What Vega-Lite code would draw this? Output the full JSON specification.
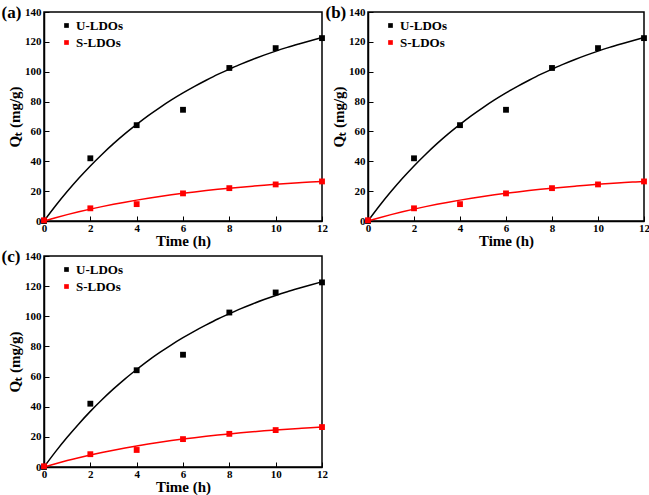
{
  "$schema": "https://vega.github.io/schema/vega-lite/v6.json",
  "padding": {"left": 0, "top": 3, "right": 0, "bottom": 0},
  "background": "white",
  "datasets": {
    "obs": [
      {"t": 0, "q": 0, "series": "U-LDOs"},
      {"t": 2, "q": 42, "series": "U-LDOs"},
      {"t": 4, "q": 64.2, "series": "U-LDOs"},
      {"t": 6, "q": 74.5, "series": "U-LDOs"},
      {"t": 8, "q": 102.5, "series": "U-LDOs"},
      {"t": 10, "q": 115.8, "series": "U-LDOs"},
      {"t": 12, "q": 122.5, "series": "U-LDOs"},
      {"t": 0, "q": 0.5, "series": "S-LDOs"},
      {"t": 2, "q": 8.5, "series": "S-LDOs"},
      {"t": 4, "q": 11.3, "series": "S-LDOs"},
      {"t": 6, "q": 18.5, "series": "S-LDOs"},
      {"t": 8, "q": 22, "series": "S-LDOs"},
      {"t": 10, "q": 24.5, "series": "S-LDOs"},
      {"t": 12, "q": 26.5, "series": "S-LDOs"}
    ],
    "fit": [
      {"t": 0, "q": 0, "series": "U-LDOs"},
      {"t": 0.5, "q": 10.2, "series": "U-LDOs"},
      {"t": 1, "q": 19.7, "series": "U-LDOs"},
      {"t": 1.5, "q": 28.6, "series": "U-LDOs"},
      {"t": 2, "q": 36.9, "series": "U-LDOs"},
      {"t": 2.5, "q": 44.6, "series": "U-LDOs"},
      {"t": 3, "q": 51.8, "series": "U-LDOs"},
      {"t": 3.5, "q": 58.5, "series": "U-LDOs"},
      {"t": 4, "q": 64.7, "series": "U-LDOs"},
      {"t": 4.5, "q": 70.6, "series": "U-LDOs"},
      {"t": 5, "q": 76.0, "series": "U-LDOs"},
      {"t": 5.5, "q": 81.1, "series": "U-LDOs"},
      {"t": 6, "q": 85.8, "series": "U-LDOs"},
      {"t": 6.5, "q": 90.2, "series": "U-LDOs"},
      {"t": 7, "q": 94.3, "series": "U-LDOs"},
      {"t": 7.5, "q": 98.2, "series": "U-LDOs"},
      {"t": 8, "q": 101.7, "series": "U-LDOs"},
      {"t": 8.5, "q": 105.1, "series": "U-LDOs"},
      {"t": 9, "q": 108.2, "series": "U-LDOs"},
      {"t": 9.5, "q": 111.1, "series": "U-LDOs"},
      {"t": 10, "q": 113.8, "series": "U-LDOs"},
      {"t": 10.5, "q": 116.3, "series": "U-LDOs"},
      {"t": 11, "q": 118.6, "series": "U-LDOs"},
      {"t": 11.5, "q": 120.8, "series": "U-LDOs"},
      {"t": 12, "q": 122.9, "series": "U-LDOs"},
      {"t": 0, "q": 0, "series": "S-LDOs"},
      {"t": 0.5, "q": 2.2, "series": "S-LDOs"},
      {"t": 1, "q": 4.26, "series": "S-LDOs"},
      {"t": 1.5, "q": 6.17, "series": "S-LDOs"},
      {"t": 2, "q": 7.96, "series": "S-LDOs"},
      {"t": 2.5, "q": 9.63, "series": "S-LDOs"},
      {"t": 3, "q": 11.18, "series": "S-LDOs"},
      {"t": 3.5, "q": 12.63, "series": "S-LDOs"},
      {"t": 4, "q": 13.98, "series": "S-LDOs"},
      {"t": 4.5, "q": 15.24, "series": "S-LDOs"},
      {"t": 5, "q": 16.41, "series": "S-LDOs"},
      {"t": 5.5, "q": 17.51, "series": "S-LDOs"},
      {"t": 6, "q": 18.53, "series": "S-LDOs"},
      {"t": 6.5, "q": 19.48, "series": "S-LDOs"},
      {"t": 7, "q": 20.37, "series": "S-LDOs"},
      {"t": 7.5, "q": 21.19, "series": "S-LDOs"},
      {"t": 8, "q": 21.96, "series": "S-LDOs"},
      {"t": 8.5, "q": 22.68, "series": "S-LDOs"},
      {"t": 9, "q": 23.35, "series": "S-LDOs"},
      {"t": 9.5, "q": 23.98, "series": "S-LDOs"},
      {"t": 10, "q": 24.56, "series": "S-LDOs"},
      {"t": 10.5, "q": 25.11, "series": "S-LDOs"},
      {"t": 11, "q": 25.61, "series": "S-LDOs"},
      {"t": 11.5, "q": 26.08, "series": "S-LDOs"},
      {"t": 12, "q": 26.52, "series": "S-LDOs"}
    ]
  },
  "resolve": {"scale": {"color": "independent"}, "legend": {"color": "independent"}},
  "vconcat": [
    {
      "resolve": {"scale": {"color": "independent"}, "legend": {"color": "independent"}},
      "hconcat": [
        {
          "width": 278, "height": 209,
          "title": {"text": "(a)"},
          "layer": [
            {"data": {"name": "fit"}, "mark": {"type": "line", "strokeWidth": 1.5, "interpolate": "monotone"},
             "encoding": {
               "x": {"field": "t", "type": "quantitative", "scale": {"domain": [0, 12], "nice": false}, "title": "Time (h)"},
               "y": {"field": "q", "type": "quantitative", "scale": {"domain": [0, 140], "nice": false}, "title": "Qₜ (mg/g)"},
               "color": {"field": "series", "type": "nominal", "scale": {"domain": ["U-LDOs", "S-LDOs"], "range": ["#000000", "#ff0000"]}}
             }},
            {"data": {"name": "obs"}, "mark": {"type": "point", "shape": "square", "filled": true, "size": 34, "opacity": 1},
             "encoding": {
               "x": {"field": "t", "type": "quantitative"},
               "y": {"field": "q", "type": "quantitative"},
               "color": {"field": "series", "type": "nominal", "legend": {"title": null, "orient": "none", "legendX": 16, "legendY": 7}}
             }}
          ]
        },
        {
          "width": 276, "height": 209,
          "title": {"text": "(b)"},
          "layer": [
            {"data": {"name": "fit"}, "mark": {"type": "line", "strokeWidth": 1.5, "interpolate": "monotone"},
             "encoding": {
               "x": {"field": "t", "type": "quantitative", "scale": {"domain": [0, 12], "nice": false}, "title": "Time (h)"},
               "y": {"field": "q", "type": "quantitative", "scale": {"domain": [0, 140], "nice": false}, "title": "Qₜ (mg/g)"},
               "color": {"field": "series", "type": "nominal", "scale": {"domain": ["U-LDOs", "S-LDOs"], "range": ["#000000", "#ff0000"]}}
             }},
            {"data": {"name": "obs"}, "mark": {"type": "point", "shape": "square", "filled": true, "size": 34, "opacity": 1},
             "encoding": {
               "x": {"field": "t", "type": "quantitative"},
               "y": {"field": "q", "type": "quantitative"},
               "color": {"field": "series", "type": "nominal", "legend": {"title": null, "orient": "none", "legendX": 16, "legendY": 7}}
             }}
          ]
        }
      ]
    },
    {
      "hconcat": [
        {
          "width": 278, "height": 211,
          "title": {"text": "(c)"},
          "layer": [
            {"data": {"name": "fit"}, "mark": {"type": "line", "strokeWidth": 1.5, "interpolate": "monotone"},
             "encoding": {
               "x": {"field": "t", "type": "quantitative", "scale": {"domain": [0, 12], "nice": false}, "title": "Time (h)"},
               "y": {"field": "q", "type": "quantitative", "scale": {"domain": [0, 140], "nice": false}, "title": "Qₜ (mg/g)"},
               "color": {"field": "series", "type": "nominal", "scale": {"domain": ["U-LDOs", "S-LDOs"], "range": ["#000000", "#ff0000"]}}
             }},
            {"data": {"name": "obs"}, "mark": {"type": "point", "shape": "square", "filled": true, "size": 34, "opacity": 1},
             "encoding": {
               "x": {"field": "t", "type": "quantitative"},
               "y": {"field": "q", "type": "quantitative"},
               "color": {"field": "series", "type": "nominal", "legend": {"title": null, "orient": "none", "legendX": 16, "legendY": 7}}
             }}
          ]
        }
      ]
    }
  ],
  "spacing": -2,
  "config": {
    "concat": {"spacing": -5},
    "view": {"stroke": "#000000", "strokeWidth": 1.5},
    "font": "Liberation Serif",
    "title": {"anchor": "start", "frame": "bounds", "offset": -16, "dx": -6, "font": "Liberation Serif", "fontSize": 17, "fontWeight": "bold", "color": "#000000"},
    "axis": {
      "grid": false,
      "domainColor": "#000000",
      "domainWidth": 1.5,
      "tickColor": "#000000",
      "tickWidth": 1,
      "labelFont": "Liberation Serif",
      "labelFontWeight": "bold",
      "labelFontSize": 11,
      "labelColor": "#000000",
      "titleFont": "Liberation Serif",
      "titleFontWeight": "bold",
      "titleFontSize": 15,
      "titleColor": "#000000"
    },
    "axisX": {
      "values": [0, 1, 2, 3, 4, 5, 6, 7, 8, 9, 10, 11, 12],
      "labelExpr": "datum.value % 2 == 0 ? datum.label : ''",
      "tickSize": {"condition": {"test": "datum.value % 2 == 1", "value": -3}, "value": -5},
      "labelPadding": 6,
      "titlePadding": 0,
      "labelFlush": false
    },
    "axisY": {
      "values": [0, 10, 20, 30, 40, 50, 60, 70, 80, 90, 100, 110, 120, 130, 140],
      "labelExpr": "datum.value % 20 == 0 ? datum.label : ''",
      "tickSize": {"condition": {"test": "datum.value % 20 != 0", "value": -3}, "value": -5},
      "labelPadding": 8,
      "titlePadding": 2,
      "labelFlush": false
    },
    "legend": {
      "symbolType": "square",
      "symbolSize": 22,
      "labelFont": "Liberation Serif",
      "labelFontWeight": "bold",
      "labelFontSize": 13,
      "labelColor": "#000000",
      "labelOffset": 3,
      "padding": 0,
      "rowPadding": 3,
      "symbolStrokeWidth": 0
    }
  }
}
